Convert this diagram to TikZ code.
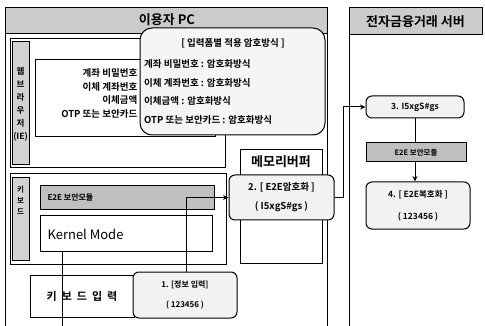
\documentclass[tikz,border=0pt]{standalone}
\usepackage{fontspec}
\setmainfont{Noto Sans CJK KR}[BoldFont={Noto Sans CJK KR Bold}]
\usetikzlibrary{arrows.meta,calc}
\newcommand\tightlines{\lineskiplimit=-20pt\relax}
\begin{document}
\begin{tikzpicture}[x=1pt,y=-1pt,
  box/.style={draw, line width=1pt, inner sep=0pt, rectangle},
  rbox/.style={box, rounded corners=6pt, fill=gray!10},
  banner/.style={box, fill=gray!40},
  module/.style={box, fill=gray!50},
  strip/.style={box, fill=gray!35},
  conn/.style={line width=1pt},
  arr/.style={conn, -{Stealth[length=5.5pt,width=5pt]}},
  fs/.style={font=\fontsize{#1}{#1}\selectfont\bfseries},
]
\useasboundingbox (0,0) rectangle (485,326);
% panel borders
\coordinate (pl1) at (5,8);   \coordinate (pl2) at (5,326);
\coordinate (pr1) at (327,8); \coordinate (pr2) at (327,326);
\coordinate (sl1) at (349,8); \coordinate (sl2) at (349,326);
\draw[conn] (pl1) -- (pl2);
\draw[conn] (pr1) -- (pr2);
\draw[conn] (sl1) -- (sl2);
% banners
\node[banner, minimum width=322, minimum height=26] (userpc) at (166,21) {};
\node[fs=13] (usertitle) at (167,20) {이용자 PC};
\node[banner, minimum width=133, minimum height=27, fs=13] (server) at (415.5,21.5) {전자금융거래 서버};
% web browser
\node[box, minimum width=215, minimum height=129] (web) at (117.5,103.5) {};
\node[strip, minimum width=17, minimum height=123] (webstrip) at (20.5,103.5) {};
\node[align=center, inner sep=0pt,
      font=\fontsize{8.5}{13}\selectfont\bfseries\tightlines] (webstriptext) at (20.5,104.5) {웹\\브\\라\\우\\저\\(IE)};
\node[box, minimum width=180, minimum height=77] (webinner) at (125,98.5) {};
\node[anchor=east, align=right, inner sep=0pt, font=\fontsize{9.5}{13.7}\selectfont\bfseries\tightlines] (webtext) at (137.5,93.5)
  {계좌 비밀번호\\이체 계좌번호\\이체금액\\OTP 또는 보안카드};
% bubble
\node[box, rounded corners=12pt, fill=gray!8, minimum width=185, minimum height=107] (bubble) at (232.5,81.5) {};
\node[fs=9.5] (bubtitle) at (233,43) {[ 입력폼별 적용 암호방식 ]};
\node[anchor=west, align=left, inner sep=0pt, font=\fontsize{9.5}{18.7}\selectfont\bfseries] (bubtext) at (144,92)
  {계좌 비밀번호 : 암호화방식\\이체 계좌번호 : 암호화방식\\이체금액 : 암호화방식\\OTP 또는 보안카드 : 암호화방식};
% keyboard
\node[box, minimum width=216, minimum height=90] (kb) at (118,219) {};
\node[strip, minimum width=17, minimum height=82] (kbstrip) at (20.5,219) {};
\node[anchor=north, align=center, inner sep=0pt, font=\fontsize{7.5}{11}\selectfont\bfseries\tightlines] (kbtext) at (20.5,186) {키\\보\\드};
\node[module, minimum width=174, minimum height=24] (e2el) at (127,198) {};
\node[anchor=west, fs=8] (e2eltext) at (44,197) {E2E 보안모듈};
\node[box, minimum width=172, minimum height=35] (kernel) at (126,233.5) {};
\node[anchor=west, font=\fontsize{13}{15}\selectfont] (kerneltext) at (44,234) {Kernel Mode};
\node[box, minimum width=104, minimum height=42, fs=11] (kbin) at (82,296) {키\hspace{5pt}보\hspace{5pt}드\hspace{5pt}입\hspace{5pt}력};
\node[rbox, minimum width=104, minimum height=46, align=center, font=\fontsize{8}{20}\selectfont\bfseries] (box1) at (185,295) {1. [정보 입력]\\( 123456 )};
% memory buffer
\node[box, minimum width=82, minimum height=113] (membuf) at (281,206.5) {};
\node[fs=13] (membuftext) at (281,162) {메모리버퍼};
\node[rbox, minimum width=105, minimum height=45, align=center, font=\fontsize{9.5}{19}\selectfont\bfseries] (box2) at (281.5,197.5) {2. [ E2E암호화 ]\\( I5xgS\#gs )};
% server side
\node[rbox, minimum width=98, minimum height=22, fs=8.5] (box3) at (415,107) {3. I5xgS\#gs};
\node[module, minimum width=100, minimum height=19, fs=7.5] (e2es) at (416,152.5) {E2E 보안모듈};
\node[rbox, minimum width=104, minimum height=47, align=center, font=\fontsize{8.5}{22}\selectfont\bfseries] (box4) at (418,205.5) {4. [ E2E복호화 ]\\( 123456 )};
% connectors
\coordinate (kbot) at (62,326);
\draw[conn] (kernel.south -| kbot) -- (kbot);
\coordinate (b1x) at (186,0);
\draw[arr] (box1.north -| b1x) |- (box2.west);
\draw[arr] (box2.east) -- ++(9,0) |- (box3.west);
\draw[conn] (box3.south) -- (box3.south |- e2es.north);
\draw[arr] (box3.south |- e2es.south) -- (box3.south |- box4.north);
\end{tikzpicture}
\end{document}
